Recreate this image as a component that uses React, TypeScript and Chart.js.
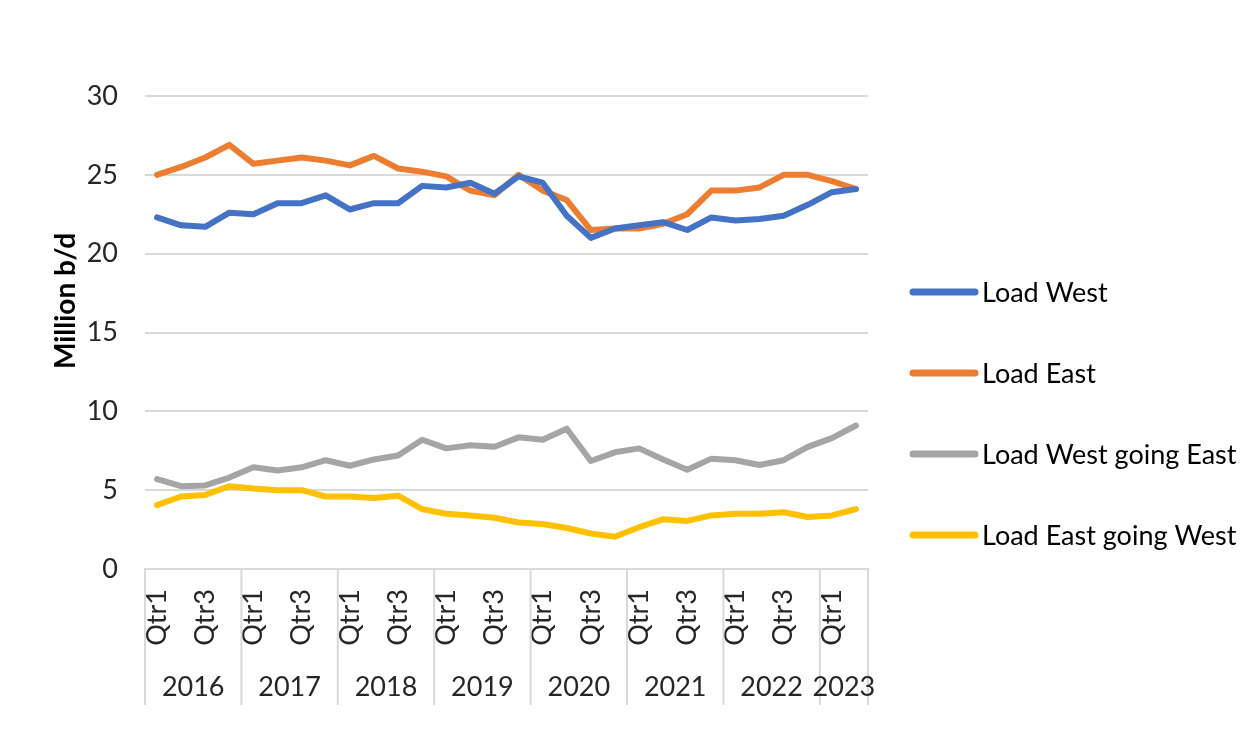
import React, { useEffect, useRef } from 'react';
import { Chart, registerables } from 'chart.js';

Chart.register(...registerables);

const quarterLabels = [
  'Qtr1', 'Qtr2', 'Qtr3', 'Qtr4',
  'Qtr1', 'Qtr2', 'Qtr3', 'Qtr4',
  'Qtr1', 'Qtr2', 'Qtr3', 'Qtr4',
  'Qtr1', 'Qtr2', 'Qtr3', 'Qtr4',
  'Qtr1', 'Qtr2', 'Qtr3', 'Qtr4',
  'Qtr1', 'Qtr2', 'Qtr3', 'Qtr4',
  'Qtr1', 'Qtr2', 'Qtr3', 'Qtr4',
  'Qtr1', 'Qtr2',
];
const yearLabels = ['2016', '2017', '2018', '2019', '2020', '2021', '2022', '2023'];
const quartersPerYear = [4, 4, 4, 4, 4, 4, 4, 2];

const loadWest = [22.3, 21.8, 21.7, 22.6, 22.5, 23.2, 23.2, 23.7, 22.8, 23.2, 23.2, 24.3, 24.2, 24.5, 23.8, 24.9, 24.5, 22.4, 21.0, 21.6, 21.8, 22.0, 21.5, 22.3, 22.1, 22.2, 22.4, 23.1, 23.9, 24.1];
const loadEast = [25.0, 25.5, 26.1, 26.9, 25.7, 25.9, 26.1, 25.9, 25.6, 26.2, 25.4, 25.2, 24.9, 24.0, 23.7, 25.0, 24.0, 23.4, 21.5, 21.6, 21.6, 21.9, 22.5, 24.0, 24.0, 24.2, 25.0, 25.0, 24.6, 24.1];
const loadWestGoingEast = [5.7, 5.25, 5.3, 5.8, 6.45, 6.25, 6.45, 6.9, 6.55, 6.95, 7.2, 8.2, 7.65, 7.85, 7.75, 8.35, 8.2, 8.9, 6.85, 7.4, 7.65, 6.95, 6.3, 7.0, 6.9, 6.6, 6.9, 7.75, 8.3, 9.1];
const loadEastGoingWest = [4.05, 4.6, 4.7, 5.25, 5.1, 5.0, 5.0, 4.6, 4.6, 4.5, 4.65, 3.8, 3.5, 3.4, 3.25, 2.95, 2.85, 2.6, 2.25, 2.05, 2.65, 3.15, 3.05, 3.4, 3.5, 3.5, 3.6, 3.3, 3.4, 3.8];

const seriesNames = ['Load West', 'Load East', 'Load West going East', 'Load East going West'];
const seriesColors = ['#4472C4', '#ED7D31', '#A5A5A5', '#FFC000'];
const yTitle = 'Million b/d';

const FONT = 'Lato, "Open Sans", sans-serif';
const FS = 27;
const GRID = '#d9d9d9';

const extrasPlugin = {
  id: 'extras',
  afterDraw(chart: any) {
    const { ctx, chartArea, scales } = chart;
    const x = scales.x;
    const half = (x.getPixelForValue(1) - x.getPixelForValue(0)) / 2;
    ctx.save();
    // year separators and labels
    ctx.strokeStyle = GRID;
    ctx.lineWidth = 2;
    ctx.fillStyle = '#262626';
    ctx.font = `${FS}px ${FONT}`;
    ctx.textAlign = 'center';
    ctx.textBaseline = 'middle';
    const top = chartArea.bottom;
    const bottom = chartArea.bottom + 136;
    let idx = 0;
    yearLabels.forEach((yr, k) => {
      const n = quartersPerYear[k];
      const l = x.getPixelForValue(idx) - half;
      const r = x.getPixelForValue(idx + n - 1) + half;
      ctx.beginPath();
      ctx.moveTo(l, top);
      ctx.lineTo(l, bottom);
      ctx.stroke();
      if (k === yearLabels.length - 1) {
        ctx.beginPath();
        ctx.moveTo(r, top);
        ctx.lineTo(r, bottom);
        ctx.stroke();
      }
      ctx.fillText(yr, (l + r) / 2, chartArea.bottom + 118);
      idx += n;
    });
    // y axis title
    ctx.save();
    ctx.translate(66, 301);
    ctx.rotate(-Math.PI / 2);
    ctx.font = `bold 28px ${FONT}`;
    ctx.fillStyle = '#000';
    ctx.fillText(yTitle, 0, 0);
    ctx.restore();
    // legend
    const lx = chart.width - 341;
    chart.data.datasets.forEach((ds: any, i: number) => {
      const ly = 292 + i * 81;
      ctx.strokeStyle = ds.borderColor;
      ctx.lineWidth = 7;
      ctx.lineCap = 'round';
      ctx.beginPath();
      ctx.moveTo(lx, ly);
      ctx.lineTo(lx + 62, ly);
      ctx.stroke();
      ctx.fillStyle = '#000';
      ctx.textAlign = 'left';
      ctx.font = `${FS}px ${FONT}`;
      ctx.fillText(ds.label, lx + 69, ly + 1);
    });
    ctx.restore();
  },
};

export default function App() {
  const ref = useRef<HTMLCanvasElement>(null);
  useEffect(() => {
    if (!ref.current) return;
    const datasets = [loadWest, loadEast, loadWestGoingEast, loadEastGoingWest].map((d, i) => ({
      label: seriesNames[i],
      data: d,
      borderColor: seriesColors[i],
      backgroundColor: seriesColors[i],
      borderWidth: 6,
      pointRadius: 0,
      tension: 0,
      borderCapStyle: 'round' as const,
      borderJoinStyle: 'round' as const,
    }));
    const chart = new Chart(ref.current, {
      type: 'line',
      data: { labels: quarterLabels, datasets },
      options: {
        animation: false,
        responsive: true,
        maintainAspectRatio: false,
        layout: { padding: { top: 96, left: 0, right: 386, bottom: 0 } },
        plugins: { legend: { display: false }, tooltip: { enabled: false } },
        scales: {
          x: {
            offset: true,
            grid: { display: false, drawTicks: false },
            border: { display: true, color: GRID, width: 2 },
            ticks: {
              autoSkip: false,
              minRotation: 90,
              maxRotation: 90,
              padding: 20,
              color: '#262626',
              font: { family: FONT, size: FS },
              callback: (_v: any, i: number) => (i % 2 === 0 ? quarterLabels[i] : ''),
            },
            afterFit: (s: any) => { s.height = 176; },
          },
          y: {
            min: 0,
            max: 30,
            grid: { color: GRID, lineWidth: 2, drawTicks: false },
            border: { display: false },
            ticks: {
              stepSize: 5,
              padding: 27,
              color: '#262626',
              font: { family: FONT, size: FS },
            },
            afterFit: (s: any) => { s.width = 145; },
          },
        },
      },
      plugins: [extrasPlugin],
    });
    return () => chart.destroy();
  }, []);
  return (
    <div style={{ position: 'fixed', left: 0, top: 0, width: 1254, height: 745, background: '#fff' }}>
      <canvas ref={ref} />
    </div>
  );
}
